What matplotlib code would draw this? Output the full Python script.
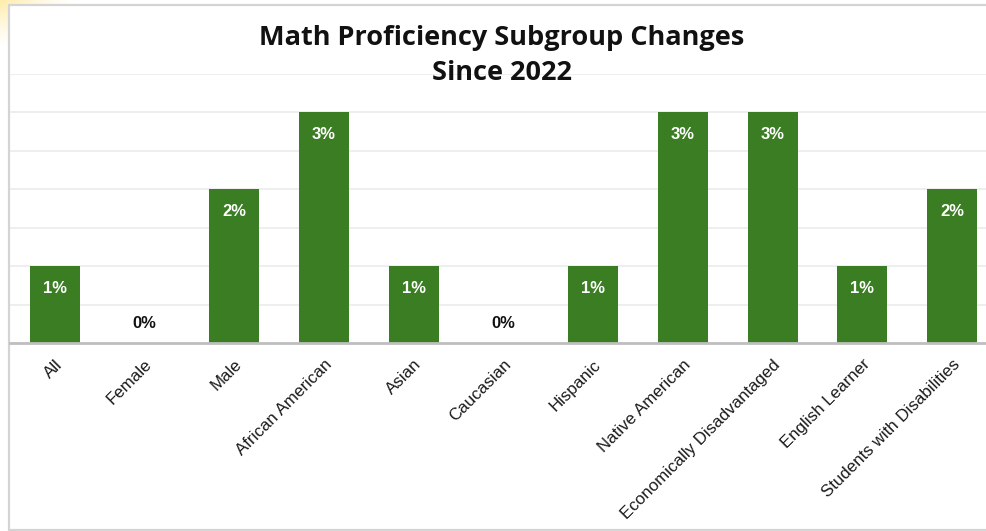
import numpy as np
import matplotlib.pyplot as plt
from matplotlib.patches import Rectangle

categories = ["All", "Female", "Male", "African American", "Asian", "Caucasian",
              "Hispanic", "Native American", "Economically Disadvantaged",
              "English Learner", "Students with Disabilities"]
changes = [1, 0, 2, 3, 1, 0, 1, 3, 3, 1, 2]  # percentage points

W, H = 986, 531
fig = plt.figure(figsize=(W / 100, H / 100), dpi=100)
fig.patch.set_facecolor("white")

# soft warm glow in the top-left corner
glow = fig.add_axes([0, 0, 1, 1], zorder=-5)
yy, xx = np.mgrid[0:H, 0:W]
d = np.sqrt((xx / 1.0) ** 2 + (yy * 1.6) ** 2)
alpha = np.clip(1 - d / 75, 0, 1) ** 1.3 * 0.6
img = np.zeros((H, W, 4))
img[..., 0] = 1.0
img[..., 1] = 0.88
img[..., 2] = 0.45
img[..., 3] = alpha
glow.imshow(img, extent=[0, W, H, 0], aspect="auto")
glow.set_xlim(0, W)
glow.set_ylim(H, 0)
glow.axis("off")

# chart frame
frame = fig.add_axes([0, 0, 1, 1], zorder=-4)
frame.set_xlim(0, W)
frame.set_ylim(H, 0)
frame.axis("off")
frame.add_patch(Rectangle((8.5, 4.5), W + 20, 525.5, facecolor="white",
                          edgecolor="#d4d4d4", linewidth=1.6))

left_px, right_px, top_px, zero_px = 10, 997, 74, 343
ax = fig.add_axes([left_px / W, (H - zero_px) / H,
                   (right_px - left_px) / W, (zero_px - top_px) / H])
ax.set_facecolor("none")

x = np.arange(len(categories))
bar_color = "#3b7d23"
ax.bar(x, changes, width=0.557, color=bar_color, zorder=3)

ax.set_xlim(-0.5, len(categories) - 0.5)
ax.set_ylim(0, 3.5)
ax.set_yticks(np.arange(0, 3.51, 0.5))
ax.yaxis.grid(True, color="#ebebeb", linewidth=1.2, zorder=0)
ax.tick_params(axis="y", left=False, labelleft=False)
for s in ["top", "right", "left"]:
    ax.spines[s].set_visible(False)
ax.spines["bottom"].set_color("#bfbfbf")
ax.spines["bottom"].set_linewidth(2)
ax.spines["bottom"].set_zorder(4)

ax.set_xticks(x)
ax.set_xticklabels(categories, rotation=45, ha="right", rotation_mode="anchor",
                   fontsize=12.2, family="Liberation Sans", color="#1a1a1a")
ax.tick_params(axis="x", length=0, pad=10)

for xi, v in zip(x, changes):
    if v > 0:
        ax.annotate(f"{v}%", (xi, v), xytext=(0, -16), textcoords="offset points",
                    ha="center", va="center", color="white", fontsize=12,
                    fontweight="bold", family="Liberation Sans", zorder=5)
    else:
        ax.annotate(f"{v}%", (xi, v), xytext=(0, 14), textcoords="offset points",
                    ha="center", va="center", color="#111111", fontsize=12,
                    fontweight="bold", family="Liberation Sans", zorder=5)

fig.text(502 / W, 1 - 55.5 / H, "Math Proficiency Subgroup Changes\nSince 2022",
         ha="center", va="center", fontsize=19.5, fontweight="bold",
         family="Open Sans", color="#111111", linespacing=1.45)

fig.savefig("out.png", dpi=100, facecolor="white")
